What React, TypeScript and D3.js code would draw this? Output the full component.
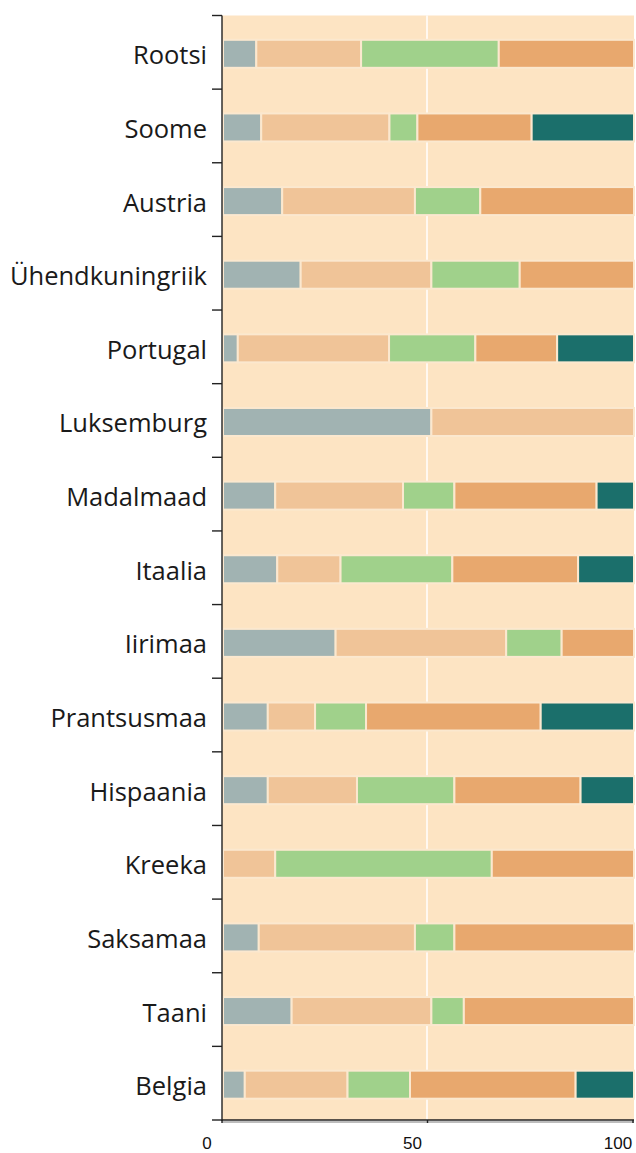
import React, { useRef, useEffect } from "react";
import * as d3 from "d3";

const countries = [
  "Rootsi",
  "Soome",
  "Austria",
  "Ühendkuningriik",
  "Portugal",
  "Luksemburg",
  "Madalmaad",
  "Itaalia",
  "Iirimaa",
  "Prantsusmaa",
  "Hispaania",
  "Kreeka",
  "Saksamaa",
  "Taani",
  "Belgia",
];

const seriesA = [8.1, 9.3, 14.4, 18.9, 3.6, 50.7, 12.7, 13.2, 27.4, 10.9, 10.9, 0, 8.7, 16.7, 5.3];
const seriesB = [25.5, 31.2, 32.3, 31.8, 36.8, 49.3, 31.1, 15.4, 41.5, 11.5, 21.7, 12.7, 38.0, 34.0, 25.0];
const seriesC = [33.5, 6.8, 15.9, 21.5, 21.0, 0, 12.5, 27.2, 13.5, 12.4, 23.7, 52.7, 9.6, 7.9, 15.2];
const seriesD = [32.9, 27.8, 37.4, 27.8, 19.9, 0, 34.6, 30.6, 17.6, 42.5, 30.7, 34.6, 43.7, 41.4, 40.3];
const seriesE = [0, 24.9, 0, 0, 18.7, 0, 9.1, 13.6, 0, 22.7, 13.0, 0, 0, 0, 14.2];

const xTicks = [0, 50, 100];

const seriesKeys = ["a", "b", "c", "d", "e"];
const colors = ["#a1b3b2", "#f0c498", "#a0d18b", "#e8a86e", "#1b6f6b"];

const width = 636;
const height = 1153;

const App = () => {
  const ref = useRef<SVGSVGElement>(null);

  useEffect(() => {
    const svg = d3.select(ref.current);
    svg.selectAll("*").remove();

    const left = 222;
    const right = 634;
    const top = 15.5;
    const bottom = 1120;

    const x = d3.scaleLinear().domain([0, 100]).range([left + 1, right]);
    const y = d3.scaleBand().domain(countries).range([top, bottom]).padding(0);

    const rows = countries.map((c, i) => ({
      country: c,
      a: seriesA[i],
      b: seriesB[i],
      c: seriesC[i],
      d: seriesD[i],
      e: seriesE[i],
    }));
    const stacked = d3.stack<any>().keys(seriesKeys)(rows);

    // plot background
    svg
      .append("rect")
      .attr("x", left)
      .attr("y", top)
      .attr("width", right - left)
      .attr("height", bottom - top)
      .attr("fill", "#fde4c3");

    // gridline at 50
    svg
      .append("line")
      .attr("x1", x(50) - 1.5)
      .attr("x2", x(50) - 1.5)
      .attr("y1", top)
      .attr("y2", bottom)
      .attr("stroke", "#ffffff")
      .attr("stroke-width", 1.5);

    const barH = 28;
    stacked.forEach((layer, k) => {
      svg
        .append("g")
        .selectAll("rect")
        .data(layer.filter((d) => d[1] - d[0] > 0))
        .enter()
        .append("rect")
        .attr("x", (d) => x(d[0]))
        .attr("width", (d) => x(d[1]) - x(d[0]))
        .attr("y", (d) => y(d.data.country)! + y.bandwidth() / 2 + 1.5 - barH / 2)
        .attr("height", barH)
        .attr("fill", colors[k])
        .attr("stroke", "#fbe8cf")
        .attr("stroke-width", 2);
    });

    // bottom shadow
    svg
      .append("line")
      .attr("x1", left)
      .attr("x2", right)
      .attr("y1", bottom + 2)
      .attr("y2", bottom + 2)
      .attr("stroke", "#bdbdbd")
      .attr("stroke-width", 2);

    // left axis
    const axis = svg.append("g").attr("stroke", "#222").attr("stroke-width", 1.4);
    axis
      .append("line")
      .attr("x1", left)
      .attr("x2", left)
      .attr("y1", top)
      .attr("y2", bottom + 1);
    const bounds = [...countries.map((c) => y(c)!), bottom];
    axis
      .selectAll(".tick")
      .data(bounds)
      .enter()
      .append("line")
      .attr("x1", left - 10)
      .attr("x2", left)
      .attr("y1", (d) => d)
      .attr("y2", (d) => d);

    // bottom axis
    axis
      .append("line")
      .attr("x1", left)
      .attr("x2", right)
      .attr("y1", bottom)
      .attr("y2", bottom);
    axis
      .selectAll(".xtick")
      .data(xTicks)
      .enter()
      .append("line")
      .attr("x1", (d) => x(d) - 1)
      .attr("x2", (d) => x(d) - 1)
      .attr("y1", bottom)
      .attr("y2", bottom + 3);

    svg
      .append("g")
      .selectAll("text")
      .data(xTicks)
      .enter()
      .append("text")
      .text((d) => d)
      .attr("x", (d) => x(d) - 16)
      .attr("y", 1149)
      .attr("text-anchor", "middle")
      .style("font-family", "'Liberation Sans', Arial, sans-serif")
      .style("font-size", "17px")
      .attr("fill", "#111");

    svg
      .append("g")
      .selectAll("text")
      .data(countries)
      .enter()
      .append("text")
      .text((d) => d)
      .attr("x", 207)
      .attr("y", (d) => y(d)! + y.bandwidth() / 2 + 12)
      .attr("text-anchor", "end")
      .style("font-family", "'Open Sans', 'Noto Sans', sans-serif")
      .style("font-size", "25.5px")
      .attr("fill", "#1a1a1a");
  }, []);

  return (
    <svg
      ref={ref}
      width={width}
      height={height}
      style={{ position: "absolute", left: 0, top: 0, display: "block" }}
    ></svg>
  );
};

export default App;
